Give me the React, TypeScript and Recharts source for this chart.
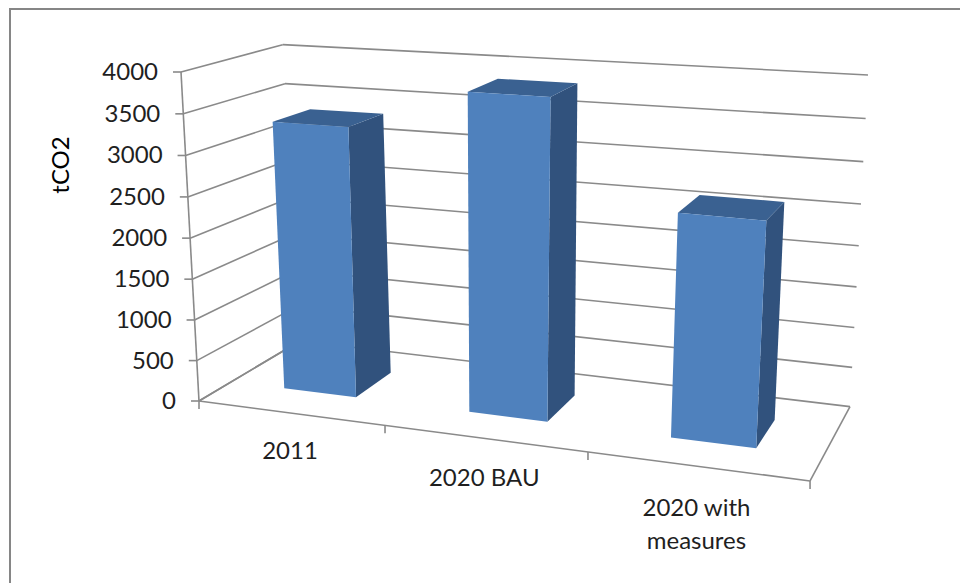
import { Bar, BarChart, CartesianGrid, Customized, XAxis, YAxis } from 'recharts';

const categories = ['2011', '2020 BAU', '2020 with measures'];
const emissions = [3320, 3830, 2620];
const yTicks = [0, 500, 1000, 1500, 2000, 2500, 3000, 3500, 4000];
const labelRows = [['2011'], ['2020 BAU'], ['2020 with', 'measures']];

const chartData = categories.map((name, i) => ({ name, tCO2: emissions[i] }));

const PLOT = { left: 199, top: 72, width: 611, height: 328 };
const YMAX = 4000;

const GRID = '#8a8a8a';
const TEXT = '#1f1f1f';
const FONT = 'Lato, "Open Sans", sans-serif';
const FONT_SIZE = 24;

// Colours of the three visible box faces
const FACE_FRONT = '#4f81bd';
const FACE_SIDE = '#31527d';
const FACE_TOP = '#3a6191';

// Bars sit between these floor depths (0 = front edge, 1 = back wall)
const DEPTH_FRONT = 0.3;
const DEPTH_BACK = 0.69;

type Pt = [number, number];

// Floor plane homography, unit square to the drawn quadrilateral
function floor(u: number, d: number): Pt {
  const s = u - 0.04 * u * (1 - u);
  const w = -0.0887 * s + 0.1174 * d + 1;
  return [(539.2 * s + 136.2 * d + 199) / w, (37.3 * s - 20 * d + 401) / w];
}

// Screen vector of the full value range, blended between the four floor corners
function rise(u: number, d: number): Pt {
  const front: Pt = [-18 + u * 38, -329 - u * 36];
  const back: Pt = [-17.3 + u * 35.3, -296.3 - u * 35.4];
  return [front[0] + (back[0] - front[0]) * d, front[1] + (back[1] - front[1]) * d];
}

// u: across the categories, d: depth, v: share of the value axis
function project(u: number, d: number, v: number): Pt {
  const base = floor(u, d);
  const up = rise(u, d);
  // value spacing opens up slightly toward the top, more so at the back
  const t = v - (0.02 + 0.04 * d) * v * (1 - v);
  return [base[0] + up[0] * t, base[1] + up[1] * t];
}

const toU = (x: number) => (x - PLOT.left) / PLOT.width;
const toV = (y: number) => (PLOT.top + PLOT.height - y) / PLOT.height;

const poly = (pts: Pt[]) => pts.map((p) => p.join(',')).join(' ');

function Segment({ from, to }: { from: Pt; to: Pt }) {
  return <line x1={from[0]} y1={from[1]} x2={to[0]} y2={to[1]} stroke={GRID} strokeWidth={1.6} />;
}

// Side wall and back wall line for one value
function WallLine(props: any) {
  const v = toV(props.y1);
  return (
    <g>
      <Segment from={project(0, 0, v)} to={project(0, 1, v)} />
      <Segment from={project(0, 1, v)} to={project(1, 1, v)} />
    </g>
  );
}

function Box(props: any) {
  const { x, width, height } = props;
  const u0 = toU(x);
  const u1 = toU(x + width);
  const v = height / PLOT.height;
  const frontL = project(u0, DEPTH_FRONT, v);
  const frontR = project(u1, DEPTH_FRONT, v);
  const backL = project(u0, DEPTH_BACK, v);
  const backR = project(u1, DEPTH_BACK, v);
  return (
    <g>
      <polygon
        points={poly([project(u1, DEPTH_FRONT, 0), project(u1, DEPTH_BACK, 0), backR, frontR])}
        fill={FACE_SIDE}
      />
      <polygon points={poly([frontL, frontR, backR, backL])} fill={FACE_TOP} />
      <polygon
        points={poly([project(u0, DEPTH_FRONT, 0), project(u1, DEPTH_FRONT, 0), frontR, frontL])}
        fill={FACE_FRONT}
      />
    </g>
  );
}

function ValueTick(props: any) {
  const v = toV(props.y);
  const [ax, ay] = project(0, 0, v);
  return (
    <g>
      <line x1={ax - 8} y1={ay} x2={ax} y2={ay} stroke={GRID} strokeWidth={1.6} />
      <text x={ax - 23} y={ay + 8} textAnchor="end" fontFamily={FONT} fontSize={FONT_SIZE} fill={TEXT}>
        {props.payload.value}
      </text>
    </g>
  );
}

function CategoryTick(props: any) {
  const u = toU(props.x);
  const [bx, by] = floor(u, 0);
  const rows = labelRows[props.index] ?? [props.payload.value];
  return (
    <text textAnchor="middle" fontFamily={FONT} fontSize={FONT_SIZE} fill={TEXT}>
      {rows.map((row, i) => (
        <tspan key={row} x={bx} y={by + 45 + 6 * u + i * 33}>
          {row}
        </tspan>
      ))}
    </text>
  );
}

// Floor outline, upright axis and the tick marks between categories
function Frame() {
  const corners = [0, 1, 2, 3].map((i) => floor(i / 3, 0));
  return (
    <g>
      <Segment from={floor(0, 0)} to={floor(1, 0)} />
      <Segment from={floor(0, 0)} to={floor(0, 1)} />
      <Segment from={floor(1, 0)} to={floor(1, 1)} />
      <Segment from={project(0, 0, 0)} to={project(0, 0, 1)} />
      {corners.map(([x, y]) => (
        <line key={x} x1={x} y1={y} x2={x} y2={y + 8} stroke={GRID} strokeWidth={1.6} />
      ))}
    </g>
  );
}

function AxisTitle() {
  return (
    <text
      transform="translate(69 165) rotate(-90)"
      textAnchor="middle"
      fontFamily={FONT}
      fontSize={FONT_SIZE}
      fill="#000"
    >
      tCO2
    </text>
  );
}

export default function App() {
  return (
    <div style={{ position: 'absolute', left: 0, top: 0, width: 960, height: 583, overflow: 'hidden', background: '#fff' }}>
      <div
        style={{
          position: 'absolute',
          left: 9,
          top: 8,
          width: 960,
          height: 600,
          borderTop: '2px solid #868686',
          borderLeft: '2px solid #868686',
        }}
      />
      <div style={{ position: 'absolute', left: 0, top: 0 }}>
        <BarChart
          width={960}
          height={583}
          data={chartData}
          barCategoryGap="30%"
          margin={{ top: PLOT.top, right: 960 - PLOT.left - PLOT.width, bottom: 123, left: 0 }}
        >
          <CartesianGrid horizontal={WallLine} vertical={false} />
          <XAxis dataKey="name" height={60} interval={0} axisLine={false} tickLine={false} tick={CategoryTick} />
          <YAxis
            width={PLOT.left}
            domain={[0, YMAX]}
            ticks={yTicks}
            interval={0}
            axisLine={false}
            tickLine={false}
            tick={ValueTick}
          />
          <Customized component={Frame} />
          <Customized component={AxisTitle} />
          <Bar dataKey="tCO2" shape={Box} isAnimationActive={false} />
        </BarChart>
      </div>
    </div>
  );
}
